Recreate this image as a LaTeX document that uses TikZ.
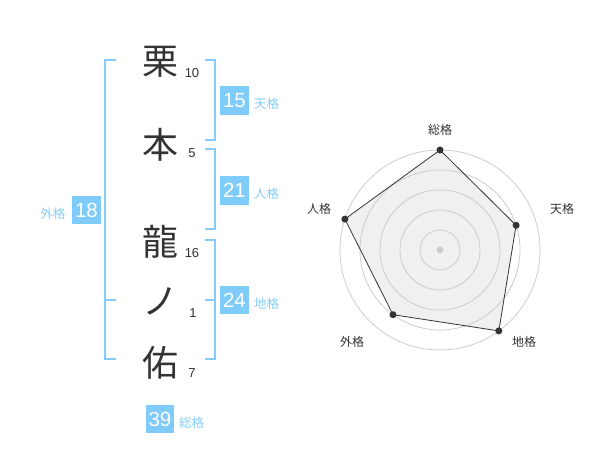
\documentclass[tikz,border=0pt]{standalone}
\usepackage{fontspec}
\setmainfont{Liberation Sans}
\newfontfamily\cjk{Noto Sans CJK JP}
\definecolor{lblue}{HTML}{85CCF8}
\definecolor{boxblue}{HTML}{7FCBF9}
\definecolor{dark}{HTML}{333333}
\definecolor{ring}{HTML}{CCCCCC}
\definecolor{area}{HTML}{F0F0F0}
\tikzset{
  kanji/.style={font=\cjk\fontsize{36}{36}\selectfont, text=dark, inner sep=0pt},
  strokes/.style={font=\fontsize{13}{13}\selectfont, text=dark, inner sep=0pt},
  scorebox/.style={fill=boxblue, text=white, minimum width=28.5pt, minimum height=28.5pt, inner sep=0pt, font=\fontsize{20.5}{20.5}\selectfont},
  scorelbl/.style={font=\cjk\fontsize{12.5}{12.5}\selectfont, text=lblue, inner sep=0pt},
  brk/.style={draw=lblue, line width=2pt},
  axlbl/.style={font=\cjk\fontsize{12}{12}\selectfont, text=dark, inner sep=0pt},
  dot/.style={circle, fill=dark, minimum size=7pt, inner sep=0pt},
}
\begin{document}
\begin{tikzpicture}[x=1pt,y=-1pt]
\useasboundingbox (0,0) rectangle (600,470);
% name characters
\node[kanji] (c1) at (160,61.7) {栗};
\node[kanji] (c2) at (160,145) {本};
\node[kanji] (c3) at (160,241.7) {龍};
\node[kanji] (c4) at (160,301.7) {ノ};
\node[kanji] (c5) at (160,363) {佑};
\node[strokes] (s1) at (192,73) {10};
\node[strokes] (s2) at (192,153) {5};
\node[strokes] (s3) at (192,253) {16};
\node[strokes] (s4) at (193,313) {1};
\node[strokes] (s5) at (192,373) {7};
% brackets
\draw[brk] (116,60) -- (105,60) -- (105,359.5) -- (116,359.5);
\draw[brk] (105,300) -- (116,300);
\draw[brk] (205,60) -- (215,60) -- (215,140) -- (205,140);
\draw[brk] (205,149.5) -- (215,149.5) -- (215,229.5) -- (205,229.5);
\draw[brk] (205,240) -- (215,240) -- (215,359.5) -- (205,359.5);
\draw[brk] (205,300) -- (215,300);
% score boxes
\node[scorebox] (ten) at (234.5,100.5) {15};
\node[scorelbl, anchor=west] (tenl) at (254,104) {天格};
\node[scorebox] (jin) at (234.5,190.5) {21};
\node[scorelbl, anchor=west] (jinl) at (254,194) {人格};
\node[scorebox] (chi) at (234.5,300.2) {24};
\node[scorelbl, anchor=west] (chil) at (254,304) {地格};
\node[scorebox] (gai) at (86.5,210.2) {18};
\node[scorelbl, anchor=east] (gail) at (65.5,214) {外格};
\node[scorebox] (sou) at (160,419.2) {39};
\node[scorelbl, anchor=west] (soul) at (179,423) {総格};
% radar chart
\coordinate (ctr) at (440,250);
\coordinate (pS) at (440,150);
\coordinate (pT) at (516.1,225.3);
\coordinate (pC) at (498.8,330.9);
\coordinate (pG) at (393.0,314.7);
\coordinate (pJ) at (344.9,219.1);
\fill[area] (pS) -- (pT) -- (pC) -- (pG) -- (pJ) -- cycle;
\foreach \r in {20,40,60,80,100} \draw[ring, line width=0.8pt] (ctr) circle[radius=\r pt];
\fill[ring] (ctr) circle[radius=3.5pt];
\draw[dark, line width=0.8pt] (pS) -- (pT) -- (pC) -- (pG) -- (pJ) -- cycle;
\foreach \p in {pS,pT,pC,pG,pJ} \node[dot] at (\p) {};
\node[axlbl] (lS) at (440,130) {総格};
\node[axlbl] (lT) at (562,209) {天格};
\node[axlbl] (lC) at (524,342) {地格};
\node[axlbl] (lG) at (352,342) {外格};
\node[axlbl] (lJ) at (319,209) {人格};
\end{tikzpicture}
\end{document}
